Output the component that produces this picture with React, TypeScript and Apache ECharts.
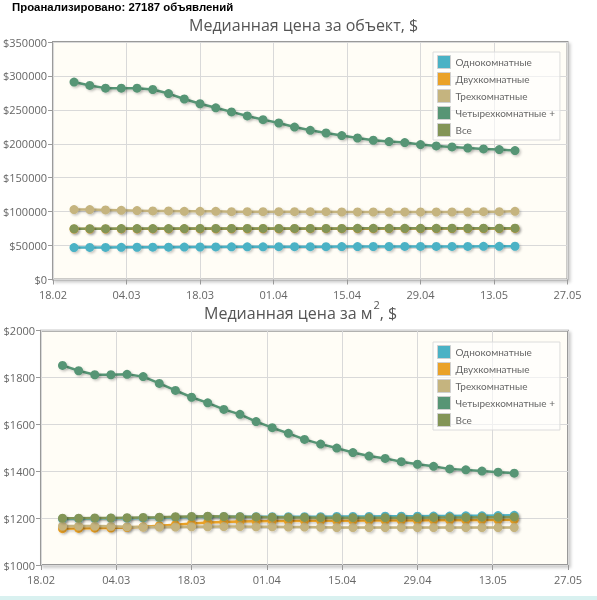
import React, { useEffect, useRef } from "react";
import * as echarts from "echarts";

const HEADER = "Проанализировано: 27187 объявлений";
const TITLE_TOP = "Медианная цена за объект, $";
const SERIES_NAMES = ["Однокомнатные", "Двухкомнатные", "Трехкомнатные", "Четырехкомнатные +", "Все"];
const COLORS = ["#4bb2c5", "#eaa228", "#c5b47f", "#579575", "#839557"];
const X_TICKS = ["18.02", "04.03", "18.03", "01.04", "15.04", "29.04", "13.05", "27.05"];
const DATES = [
  "22.02", "25.02", "28.02", "03.03", "06.03", "09.03", "12.03", "15.03", "18.03", "21.03",
  "24.03", "27.03", "30.03", "02.04", "05.04", "08.04", "11.04", "14.04", "17.04", "20.04",
  "23.04", "26.04", "29.04", "02.05", "05.05", "08.05", "11.05", "14.05", "17.05",
];

// Median price per object, $
const OBJ_ONE = [47000, 47200, 47300, 47400, 47500, 47600, 47700, 47800, 47900, 48000, 48100, 48200, 48200, 48300, 48300, 48400, 48400, 48500, 48500, 48600, 48600, 48700, 48700, 48700, 48800, 48800, 48900, 48900, 49000];
const OBJ_TWO = [74300, 74400, 74400, 74500, 74500, 74600, 74600, 74700, 74700, 74700, 74800, 74800, 74800, 74800, 74900, 74900, 74900, 74900, 74900, 74900, 75000, 75000, 75000, 75000, 75000, 75100, 75100, 75100, 75200];
const OBJ_THREE = [103000, 103000, 102500, 102000, 101500, 101000, 101000, 100500, 100500, 100500, 100000, 100000, 100000, 100000, 100000, 100000, 100000, 99500, 99500, 99500, 99500, 99500, 99500, 99500, 99500, 99500, 100000, 100000, 100500];
const OBJ_FOUR = [291000, 286000, 282000, 282000, 282000, 280000, 274000, 266000, 259000, 253000, 247000, 241000, 235600, 230600, 224700, 219900, 215900, 212100, 208500, 205200, 203200, 201800, 198800, 196800, 195300, 193800, 192400, 191500, 190000];
const OBJ_ALL = [74800, 74900, 74900, 75000, 75000, 75000, 75100, 75100, 75200, 75200, 75200, 75300, 75300, 75300, 75300, 75300, 75300, 75300, 75400, 75400, 75400, 75400, 75400, 75400, 75500, 75500, 75500, 75500, 75600];

// Median price per m2, $
const M2_ONE = [1196, 1197, 1198, 1199, 1200, 1201, 1202, 1204, 1205, 1206, 1206, 1206, 1206, 1206, 1206, 1206, 1206, 1207, 1207, 1207, 1208, 1208, 1208, 1209, 1209, 1210, 1210, 1211, 1212];
const M2_TWO = [1155, 1156, 1157, 1158, 1160, 1163, 1168, 1172, 1177, 1181, 1184, 1186, 1187, 1188, 1188, 1189, 1189, 1189, 1189, 1190, 1190, 1190, 1190, 1191, 1191, 1191, 1192, 1192, 1193];
const M2_THREE = [1166, 1166, 1166, 1165, 1163, 1162, 1162, 1162, 1163, 1163, 1164, 1164, 1163, 1163, 1162, 1162, 1161, 1160, 1160, 1160, 1160, 1160, 1160, 1160, 1160, 1160, 1160, 1160, 1160];
const M2_FOUR = [1852, 1829, 1812, 1812, 1814, 1804, 1775, 1745, 1716, 1692, 1664, 1643, 1612, 1586, 1562, 1536, 1516, 1499, 1480, 1465, 1455, 1441, 1430, 1421, 1410, 1406, 1401, 1396, 1392];
const M2_ALL = [1200, 1200, 1201, 1201, 1202, 1203, 1204, 1206, 1207, 1208, 1207, 1206, 1205, 1204, 1203, 1203, 1202, 1202, 1202, 1202, 1202, 1202, 1202, 1203, 1203, 1203, 1204, 1204, 1205];

const FONT = "'Open Sans', 'DejaVu Sans', sans-serif";
const LEGEND_FONT = "Lato, 'Open Sans', sans-serif";

function dayOffset(d: string): number {
  const [dd, mm] = d.split(".").map(Number);
  const [bd, bm] = X_TICKS[0].split(".").map(Number);
  return Math.round((Date.UTC(2015, mm - 1, dd) - Date.UTC(2015, bm - 1, bd)) / 86400000);
}

export default function App() {
  const ref = useRef<HTMLDivElement>(null);
  useEffect(() => {
    if (!ref.current) return;
    const chart = echarts.init(ref.current, null, { renderer: "svg" });
    const xs = DATES.map(dayOffset);
    const pair = (vals: number[]) => vals.map((v, i) => [xs[i], v]);
    const shadow = { shadowColor: "rgba(0,0,0,0.22)", shadowBlur: 2, shadowOffsetX: 1.5, shadowOffsetY: 1.5 };
    const mk = (idx: number, vals: number[], axis: number) => ({
      type: "line",
      name: SERIES_NAMES[idx],
      xAxisIndex: axis,
      yAxisIndex: axis,
      data: pair(vals),
      symbol: "circle",
      symbolSize: 9,
      lineStyle: { width: 2.5, color: COLORS[idx], ...shadow },
      itemStyle: { color: COLORS[idx], ...shadow },
      emphasis: { disabled: true },
    });
    const xAxisBase = (gridIndex: number) => ({
      type: "value",
      gridIndex,
      min: 0,
      max: 98,
      interval: 14,
      axisLine: { show: false },
      axisTick: { show: true, length: 5, lineStyle: { color: "#999" } },
      axisLabel: {
        color: "#666",
        fontSize: 11,
        fontFamily: FONT,
        margin: 9,
        formatter: (v: number) => X_TICKS[Math.round(v / 14)] ?? "",
      },
      splitLine: { show: true, lineStyle: { color: "#d9d9d9", width: 1 } },
    });
    const yAxisBase = (gridIndex: number, min: number, max: number, interval: number) => ({
      type: "value",
      gridIndex,
      min,
      max,
      interval,
      axisLine: { show: false },
      axisTick: { show: true, length: 5, lineStyle: { color: "#999" } },
      axisLabel: {
        color: "#666",
        fontSize: 11,
        fontFamily: FONT,
        margin: 6,
        formatter: (v: number) => "$" + v,
      },
      splitLine: { show: true, lineStyle: { color: "#d9d9d9", width: 1 } },
    });
    const gridStyle = {
      show: true,
      backgroundColor: "#fffdf6",
      borderColor: "#999",
      borderWidth: 2,
      shadowColor: "rgba(0,0,0,0.2)",
      shadowBlur: 3,
      shadowOffsetX: 2,
      shadowOffsetY: 2,
    };
    const legendBase = (top: number) => ({
      orient: "vertical",
      left: 433,
      top,
      data: SERIES_NAMES,
      icon: "rect",
      itemWidth: 13,
      itemHeight: 13,
      itemGap: 3,
      padding: [3, 5, 3, 4],
      backgroundColor: "rgba(255,255,255,0.6)",
      borderColor: "#dcdcdc",
      borderWidth: 1,
      selectedMode: false,
      itemStyle: { borderColor: "#d0d0d0", borderWidth: 1 },
      textStyle: { color: "#666", fontSize: 10, fontFamily: LEGEND_FONT, lineHeight: 13 },
    });
    chart.setOption({
      animation: false,
      textStyle: { fontFamily: FONT },
      title: [
        {
          text: TITLE_TOP,
          left: 184,
          top: 12,
          textStyle: { color: "#555", fontSize: 16, fontWeight: "normal", fontFamily: FONT },
        },
        {
          text: "{a|Медианная цена за м}{s|2}{a|, $}",
          left: 199,
          top: 294,
          textStyle: {
            fontWeight: "normal",
            rich: {
              a: { color: "#555", fontSize: 16, fontWeight: "normal", fontFamily: FONT, lineHeight: 22, verticalAlign: "bottom" },
              s: { color: "#555", fontSize: 11, fontWeight: "normal", fontFamily: FONT, lineHeight: 22, verticalAlign: "top", padding: [0, 0, 0, 1] },
            },
          },
        },
      ],
      graphic: [
        {
          type: "text",
          left: 12,
          top: 1,
          style: { text: HEADER, fill: "#000", font: "bold 11.4px 'Liberation Sans', Arial, sans-serif" },
        },
        {
          type: "rect",
          left: 0,
          top: 596,
          shape: { width: 597, height: 4 },
          style: { fill: "#d9f1f0" },
        },
      ],
      legend: [legendBase(52), legendBase(342)],
      grid: [
        { left: 51.5, right: 29.5, top: 42, height: 237.5, ...gridStyle },
        { left: 41, right: 29, top: 330.7, height: 234.3, ...gridStyle },
      ],
      xAxis: [xAxisBase(0), xAxisBase(1)],
      yAxis: [yAxisBase(0, 0, 350000, 50000), yAxisBase(1, 1000, 2000, 200)],
      series: [
        mk(0, OBJ_ONE, 0),
        mk(1, OBJ_TWO, 0),
        mk(2, OBJ_THREE, 0),
        mk(3, OBJ_FOUR, 0),
        mk(4, OBJ_ALL, 0),
        mk(0, M2_ONE, 1),
        mk(1, M2_TWO, 1),
        mk(2, M2_THREE, 1),
        mk(3, M2_FOUR, 1),
        mk(4, M2_ALL, 1),
      ],
    });
    return () => chart.dispose();
  }, []);
  return <div ref={ref} style={{ position: "fixed", left: 0, top: 0, width: 597, height: 600 }} />;
}
